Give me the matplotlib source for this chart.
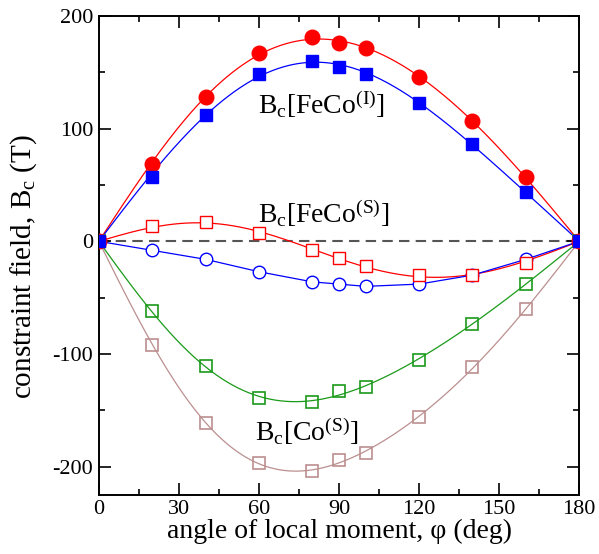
import numpy as np
import matplotlib
matplotlib.use('Agg')
import matplotlib.pyplot as plt
from matplotlib.ticker import MultipleLocator

plt.rcParams['font.family'] = ['Liberation Serif', 'DejaVu Serif']
plt.rcParams['mathtext.fontset'] = 'custom'
plt.rcParams['mathtext.rm'] = 'Liberation Serif'
plt.rcParams['mathtext.it'] = 'Liberation Serif:italic'
plt.rcParams['axes.unicode_minus'] = False

# angle of local moment (deg)
phi = [0, 20, 40, 60, 80, 90, 100, 120, 140, 160, 180]

# constraint field (T)
feco_i_fe = [0, 69, 128, 167, 181, 176, 172, 146, 107, 57, 0]      # red filled circles
feco_i_co = [0, 57, 112, 149, 160, 155, 149, 123, 86, 44, 0]       # blue filled squares
feco_s_fe = [0, 14, 17, 7, -8, -15, -22, -30, -30, -19, 0]         # red open squares
feco_s_co = [0, -8, -16, -27, -36, -38, -40, -38, -30, -16, 0]     # blue open circles
co_s_a = [0, -62, -111, -139, -143, -133, -129, -105, -73, -38, 0]  # green open squares
co_s_b = [0, -92, -161, -197, -204, -194, -188, -156, -112, -60, 0]  # brown open squares


def sine_fit(x, y, nterms=3):
    # smooth fit with sin(k*phi) terms, vanishes at 0 and 180
    xr = np.radians(x)
    A = np.column_stack([np.sin(k * xr) for k in range(1, nterms + 1)])
    c, *_ = np.linalg.lstsq(A, np.asarray(y, float), rcond=None)
    xf = np.linspace(0, 180, 361)
    Af = np.column_stack([np.sin(k * np.radians(xf)) for k in range(1, nterms + 1)])
    return xf, Af @ c


fig = plt.figure(figsize=(5.99, 5.54), dpi=100)
ax = fig.add_axes([0.165, 0.107, 0.802, 0.864])

ax.plot([0, 180], [0, 0], '--', color='#555555', lw=1.5, dashes=(5, 3), zorder=1)

brown = '#bc8f8f'
green = '#1a9a1a'

xf, yf = sine_fit(phi, co_s_b)
ax.plot(xf, yf, color=brown, lw=0.9, zorder=2)
ax.plot(phi, co_s_b, 's', ms=9, mfc='none', mec=brown, mew=1.2, zorder=3)

xf, yf = sine_fit(phi, co_s_a)
ax.plot(xf, yf, color=green, lw=0.9, zorder=2)
ax.plot(phi, co_s_a, 's', ms=9, mfc='none', mec=green, mew=1.2, zorder=3)

ax.plot(phi, feco_s_co, '-o', color='blue', lw=0.9, ms=9, mfc='white', mec='blue', mew=1.0, zorder=3)

xf, yf = sine_fit(phi, feco_s_fe)
ax.plot(xf, yf, color='red', lw=0.9, zorder=2)
ax.plot(phi, feco_s_fe, 's', ms=9, mfc='white', mec='red', mew=1.0, zorder=3)

xf, yf = sine_fit(phi, feco_i_fe)
ax.plot(xf, yf, color='red', lw=0.9, zorder=2)
ax.plot(phi, feco_i_fe, 'o', ms=10.5, color='red', zorder=4)

xf, yf = sine_fit(phi, feco_i_co)
ax.plot(xf, yf, color='blue', lw=0.9, zorder=2)
ax.plot(phi, feco_i_co, 's', ms=8.5, color='blue', zorder=4)

ax.text(59.5, 113, r'$\mathregular{B_c[FeCo^{(I)}]}$', fontsize=20, va='baseline')
ax.text(59.5, 16, r'$\mathregular{B_c[FeCo^{(S)}]}$', fontsize=20, va='baseline')
ax.text(58.5, -177, r'$\mathregular{B_c[Co^{(S)}]}$', fontsize=20, va='baseline')

ax.set_xlim(0, 180)
ax.set_ylim(-225, 200)
ax.xaxis.set_major_locator(MultipleLocator(30))
ax.xaxis.set_minor_locator(MultipleLocator(15))
ax.yaxis.set_major_locator(MultipleLocator(100))
ax.yaxis.set_minor_locator(MultipleLocator(50))
ax.tick_params(which='both', direction='in', top=True, right=True, labelsize=16, width=1.2)
ax.tick_params(which='major', length=8.5, pad=4)
ax.tick_params(which='minor', length=4.5)
for s in ax.spines.values():
    s.set_linewidth(1.4)

ax.set_xlabel('angle of local moment, φ (deg)', fontsize=20, labelpad=0)
ax.set_ylabel(r'constraint field, $\mathregular{B_c}$ (T)', fontsize=21)
ax.yaxis.set_label_coords(-0.125, 0.477)

fig.savefig('out.png', dpi=100)
